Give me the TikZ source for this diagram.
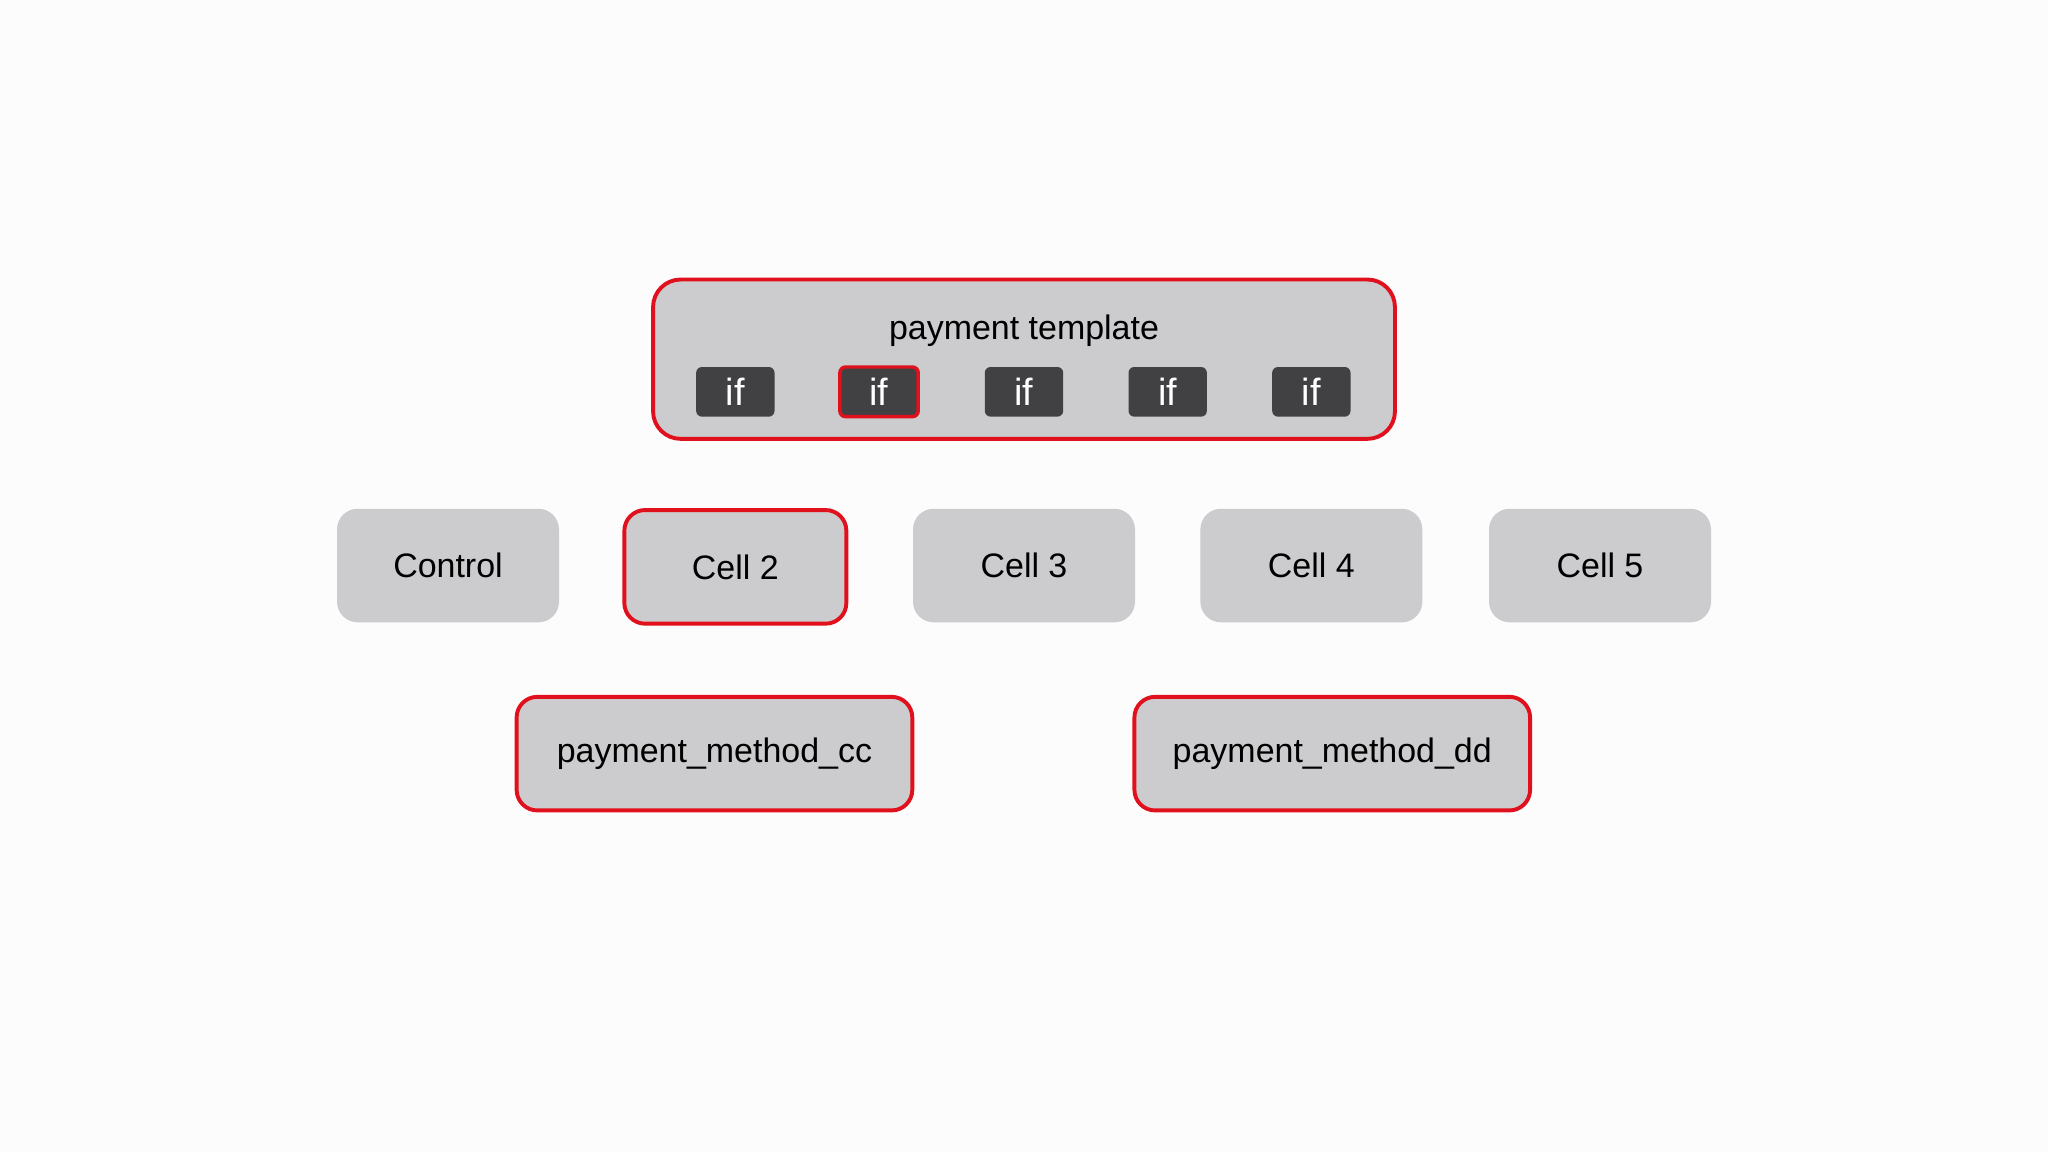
\documentclass[tikz,border=0pt]{standalone}
\usepackage{fontspec}
\setmainfont{Liberation Sans}
\definecolor{boxg}{HTML}{CCCBCD}
\definecolor{darkg}{HTML}{414143}
\definecolor{redb}{HTML}{E0101C}
\begin{document}
\begin{tikzpicture}[x=0.02cm,y=-0.02cm,
  cell/.style={fill=boxg,rounded corners=9pt,inner sep=0pt,font=\fontsize{14.8}{16}\selectfont},
  redb/.style={draw=redb,line width=1.7pt},
  ifb/.style={fill=darkg,rounded corners=2.5pt,text=white,minimum width=1.2cm,minimum height=0.76cm,inner sep=0pt,font=\fontsize{16.5}{18}\selectfont}]
\fill[white!99!black] (0,0) rectangle (1568,882);
\useasboundingbox (0,0) rectangle (1568,882);
\draw[cell,redb,rounded corners=12pt] (500,214) rectangle (1068,336);
\node[font=\fontsize{14.8}{16}\selectfont] (title) at (784,253) {payment template};
\node[ifb] (if1) at (563,300) {if};
\node[ifb,draw=redb,line width=1.5pt] (if2) at (673,300) {if};
\node[ifb] (if3) at (784,300) {if};
\node[ifb] (if4) at (894,300) {if};
\node[ifb] (if5) at (1004,300) {if};
\node[cell,minimum width=3.4cm,minimum height=1.74cm] (c1) at (343,433) {Control};
\node[cell,redb,minimum width=3.4cm,minimum height=1.74cm] (c2) at (563,434) {Cell 2};
\node[cell,minimum width=3.4cm,minimum height=1.74cm] (c3) at (784,433) {Cell 3};
\node[cell,minimum width=3.4cm,minimum height=1.74cm] (c4) at (1004,433) {Cell 4};
\node[cell,minimum width=3.4cm,minimum height=1.74cm] (c5) at (1225,433) {Cell 5};
\node[cell,redb,minimum width=6.06cm,minimum height=1.74cm] (cc) at (547,577) {payment\_method\_cc};
\node[cell,redb,minimum width=6.06cm,minimum height=1.74cm] (dd) at (1020,577) {payment\_method\_dd};
\end{tikzpicture}
\end{document}
